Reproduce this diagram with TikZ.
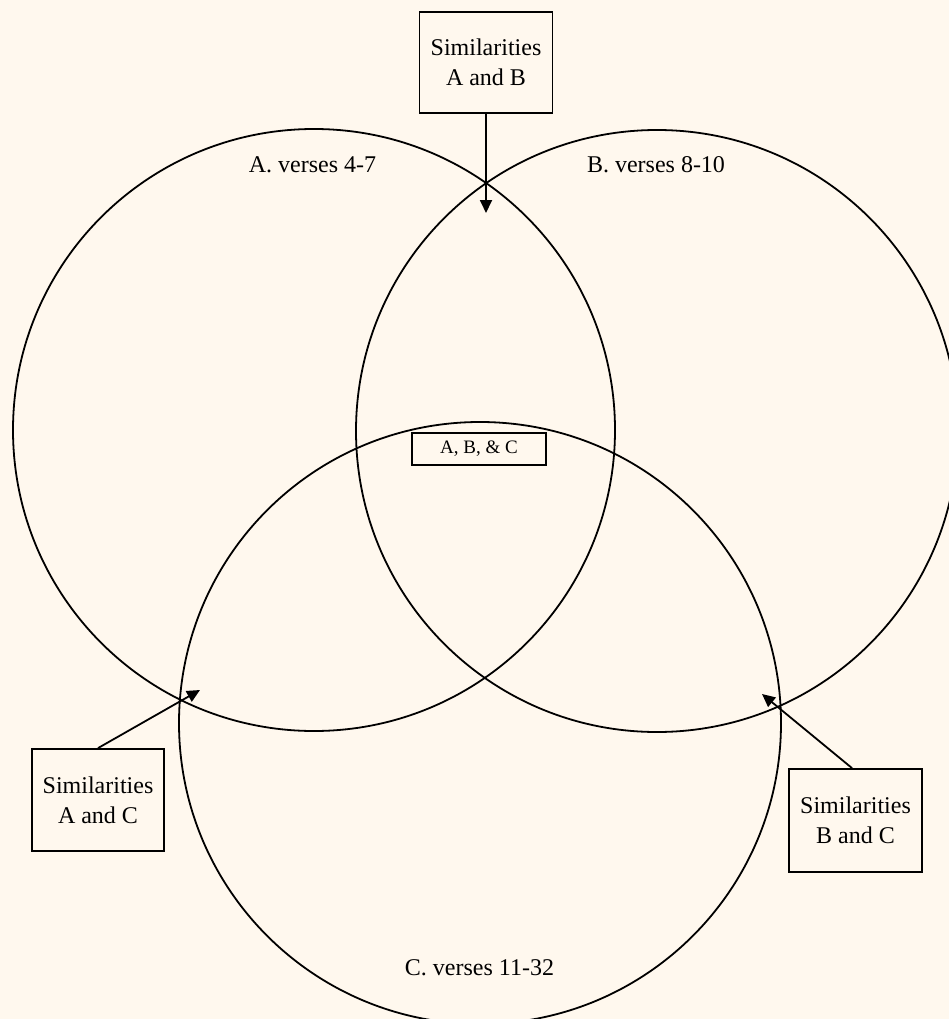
\documentclass[tikz,border=0pt]{standalone}
\usepackage{fontspec}
\setmainfont{Liberation Serif}
\usetikzlibrary{arrows.meta}
\definecolor{bgcream}{HTML}{FFF8EE}
\tikzset{
  venn/.style={circle, draw=black, line width=1.8pt, minimum size=602pt, inner sep=0pt},
  simbox/.style={draw=black, line width=1.8pt, align=center, inner sep=0pt,
    font=\fontsize{24}{30}\selectfont},
  label/.style={font=\fontsize{24}{30}\selectfont, anchor=base},
  smallbox/.style={draw=black, line width=1.8pt, inner sep=0pt, font=\fontsize{19}{22}\selectfont},
  pointer/.style={line width=1.8pt, -{Triangle[length=13pt,width=12pt]}}
}
\begin{document}
\begin{tikzpicture}[x=1pt,y=-1pt]
\fill[bgcream] (0,0) rectangle (949,1019);
\useasboundingbox (0,0) rectangle (949,1019);
\clip (0,0) rectangle (949,1019);
% circles
\node[venn] (A) at (314,430) {};
\node[venn] (B) at (657,431) {};
\node[venn] (C) at (480,723) {};
% labels
\node[label] (la) at (312.5,173) {A. verses 4-7};
\node[label] (lb) at (656,173) {B. verses 8-10};
\node[label] (lc) at (479.5,975) {C. verses 11-32};
% centre box
\node[smallbox, minimum width=134pt, minimum height=32pt] (abc) at (479,449) {A, B, \& C};
% similarity boxes
\node[simbox, minimum width=133pt, minimum height=101pt] (sab) at (486,62.5) {Similarities\\A and B};
\node[simbox, minimum width=132pt, minimum height=102pt] (sac) at (98,800) {Similarities\\A and C};
\node[simbox, minimum width=133pt, minimum height=103pt] (sbc) at (855.5,820.5) {Similarities\\B and C};
% arrow tips
\coordinate (tab) at (486,213);
\coordinate (tac) at (200,690);
\coordinate (tbc) at (762,694);
\draw[pointer] (sab.south) -- (tab);
\draw[pointer] (sac.north) -- (tac);
\draw[pointer] ([xshift=-3.5pt]sbc.north) -- (tbc);
\end{tikzpicture}
\end{document}
